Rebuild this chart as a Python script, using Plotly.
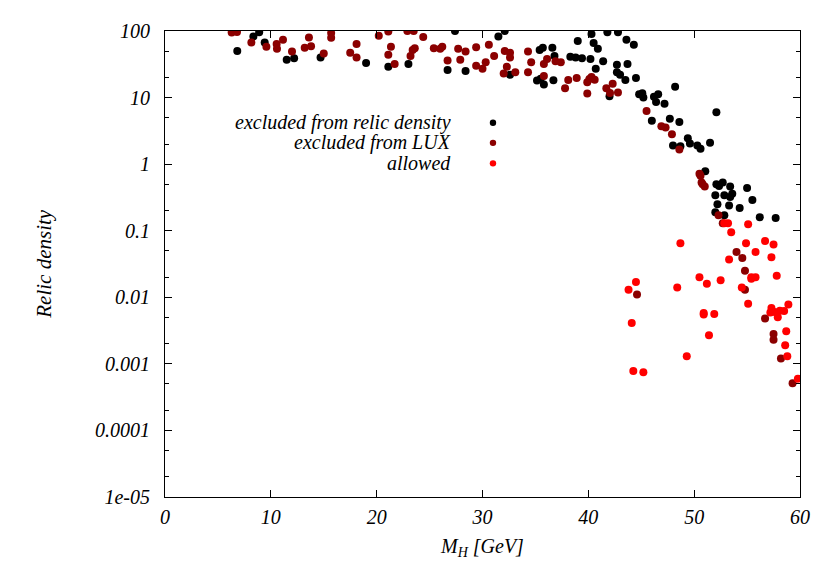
import plotly.graph_objects as go

# excluded from relic density (black)
relic_x = [8.35, 8.9, 6.83, 9.42, 11.5, 12.2, 14.7, 19.0, 21.1, 23.0, 26.7, 27.4, 28.4, 31.5, 32.1, 32.6,
           35.4, 35.7, 36.6, 36.8, 35.15, 35.5, 35.8, 36.7, 38.3, 38.8, 39.4, 39.0, 40.3, 40.5, 40.9, 40.2,
           41.8, 42.8, 43.6, 44.3, 41.4, 40.7, 42.7, 43.7, 42.7, 43.0, 43.5, 44.5, 42.0, 44.8, 45.1, 45.2,
           46.2, 46.6, 46.4, 47.2, 48.2, 52.1, 46.0, 47.7, 48.6, 48.0, 48.7, 49.4, 49.6, 50.3, 50.6, 51.5,
           51.05, 52.1, 52.35, 52.7, 53.4, 55.0, 52.0, 52.85, 53.6, 53.4, 52.2, 53.3, 54.3, 55.5, 52.0,
           52.85, 56.2, 57.7]
relic_y = [83, 96, 50, 67, 37, 39, 40, 33, 29, 32, 26, 100, 25, 83, 100, 22,
           52, 56, 56, 42, 18, 19.1, 15.7, 18.2, 41, 40, 39, 71, 90, 66, 54, 38,
           96, 96, 74, 62, 35, 27, 31, 32, 24, 22, 18.4, 19.7, 10.5, 11.2, 11.6, 10.0,
           10.3, 11.2, 8.6, 8.1, 14.6, 6.0, 4.5, 4.8, 4.3, 1.9, 1.85, 2.45, 2.05, 1.9, 1.7, 2.1,
           0.78, 0.50, 0.47, 0.53, 0.46, 0.44, 0.34, 0.34, 0.36, 0.32, 0.25, 0.24, 0.22, 0.29, 0.19,
           0.17, 0.16, 0.155]

# excluded from LUX (dark red)
lux_x = [6.3, 6.8, 8.16, 9.58, 10.55, 10.58, 11.15, 12.0, 13.6, 13.2, 13.8, 15.0, 15.7, 15.7, 18.1, 17.5,
         18.1, 20.2, 21.1, 21.35, 21.1, 21.7, 22.9, 23.5, 24.4, 23.4, 23.6, 23.2, 25.4, 26.0, 26.2, 26.7,
         27.7, 27.9, 28.4, 29.4, 29.4, 30.6, 31.1, 30.3, 30.0, 32.1, 32.6, 32.6, 32.3, 32.0, 33.1, 34.3,
         34.6, 34.3, 36.1, 35.8, 36.9, 37.4, 35.8, 37.8, 38.1, 38.9, 39.9, 40.3, 40.6, 40.1, 39.9, 41.7,
         42.3, 42.05, 42.8, 45.5, 46.9, 47.3, 47.9, 48.6, 50.5, 50.7, 51.0, 50.6, 50.8, 52.3, 52.7, 54.0,
         54.55, 54.8, 44.6, 54.8, 56.7, 57.5, 57.5, 58.2, 59.3]
lux_y = [95, 97, 67, 58, 64, 54, 74, 49, 80, 56, 59, 46, 93, 79, 64, 47,
         40, 85, 98, 58, 44, 32, 100, 100, 81, 52, 55, 42, 55, 54, 58, 36,
         54, 37, 49, 57, 30, 62, 42, 34, 27, 50, 47, 40, 29, 23, 24, 49,
         34, 24, 38, 32, 35, 34, 21, 13.8, 18.3, 19.7, 17, 20.4, 18.6, 19, 11.5, 13.8,
         16.1, 11.7, 11.9, 6.3, 3.7, 3.55, 2.8, 1.66, 0.72, 0.53, 0.46, 0.67, 0.50, 0.17, 0.13, 0.048,
         0.039, 0.025, 0.011, 0.013, 0.0048, 0.0028, 0.0023, 0.0012, 0.00051]

# allowed (red)
allowed_x = [52.85, 53.2, 55.1, 53.5, 48.7, 54.9, 56.7, 57.5, 55.8, 53.3, 57.3, 55.4, 55.8, 55.4, 57.8,
             50.5, 51.2, 52.5, 48.4, 44.5, 43.8, 54.5, 55.1, 57.3, 57.2, 57.6, 58.1, 58.5, 58.9, 57.9,
             50.9, 50.9, 51.9, 44.1, 58.7, 51.4, 58.6, 49.3, 58.8, 44.25, 45.2, 59.8]
allowed_y = [0.13, 0.13, 0.125, 0.095, 0.065, 0.065, 0.07, 0.062, 0.048, 0.037, 0.040, 0.020, 0.020, 0.019, 0.021,
             0.020, 0.016, 0.018, 0.014, 0.017, 0.013, 0.014, 0.008, 0.0069, 0.0059, 0.006, 0.0063, 0.0062, 0.0078, 0.005,
             0.0058, 0.0055, 0.0056, 0.0041, 0.0031, 0.0027, 0.0019, 0.0013, 0.0013, 0.00078, 0.00075, 0.00060]

series_names = ["excluded from relic density", "excluded from LUX", "allowed"]
series_colors = ["#000000", "#8b0000", "#ff0000"]

x_ticks = [0, 10, 20, 30, 40, 50, 60]
y_ticks = [1e-5, 1e-4, 1e-3, 1e-2, 1e-1, 1, 10, 100]
y_ticklabels = ["1e-05", "0.0001", "0.001", "0.01", "0.1", "1", "10", "100"]

FONT = "Liberation Serif"

fig = go.Figure()
for xs, ys, name, col in zip([relic_x, lux_x, allowed_x], [relic_y, lux_y, allowed_y],
                             series_names, series_colors):
    fig.add_trace(go.Scatter(x=xs, y=ys, mode="markers", name=name,
                             marker=dict(color=col, size=8, line=dict(width=0)),
                             showlegend=False))

# legend (text right-aligned, marker to the right)
leg_y = [0.803, 0.760, 0.716]
for name, col, yy in zip(series_names, series_colors, leg_y):
    fig.add_annotation(xref="paper", yref="paper", x=0.4535, y=yy, text=name,
                       showarrow=False, xanchor="right", yanchor="middle",
                       font=dict(family=FONT, size=20, color="black", style="italic"))
    fig.add_shape(type="circle", xref="paper", yref="paper", xsizemode="pixel", ysizemode="pixel",
                  xanchor=0.5165, yanchor=yy, x0=-3.2, x1=3.2, y0=-3.2, y1=3.2,
                  fillcolor=col, line=dict(width=0))

# axis titles as annotations for precise placement
fig.add_annotation(xref="paper", yref="paper", x=0.499, y=-0.109, text="M<sub>H</sub> [GeV]",
                   showarrow=False, xanchor="center", yanchor="middle",
                   font=dict(family=FONT, size=20, color="black", style="italic"))
fig.add_annotation(xref="paper", yref="paper", x=-0.191, y=0.5, text="Relic density", textangle=-90,
                   showarrow=False, xanchor="center", yanchor="middle",
                   font=dict(family=FONT, size=21, color="black", style="italic"))

axis_common = dict(showline=True, linecolor="black", linewidth=1, mirror="ticks",
                   ticks="inside", ticklen=7, tickcolor="black", showgrid=False, zeroline=False,
                   tickfont=dict(family=FONT, size=20, color="black", style="italic"))

fig.update_xaxes(range=[0, 60], tickvals=x_ticks, ticktext=[str(v) for v in x_ticks],
                 ticklabelstandoff=2, **axis_common)
fig.update_yaxes(type="log", range=[-5, 2], tickvals=y_ticks, ticktext=y_ticklabels,
                 minor=dict(ticks="inside", ticklen=4, tickcolor="black", dtick="D2", showgrid=False),
                 ticklabelstandoff=10, **axis_common)

fig.update_layout(width=830, height=581, paper_bgcolor="white", plot_bgcolor="white",
                  margin=dict(l=157, r=38, t=18, b=92),
                  font=dict(family=FONT, color="black"))

fig.write_html("out.html")
